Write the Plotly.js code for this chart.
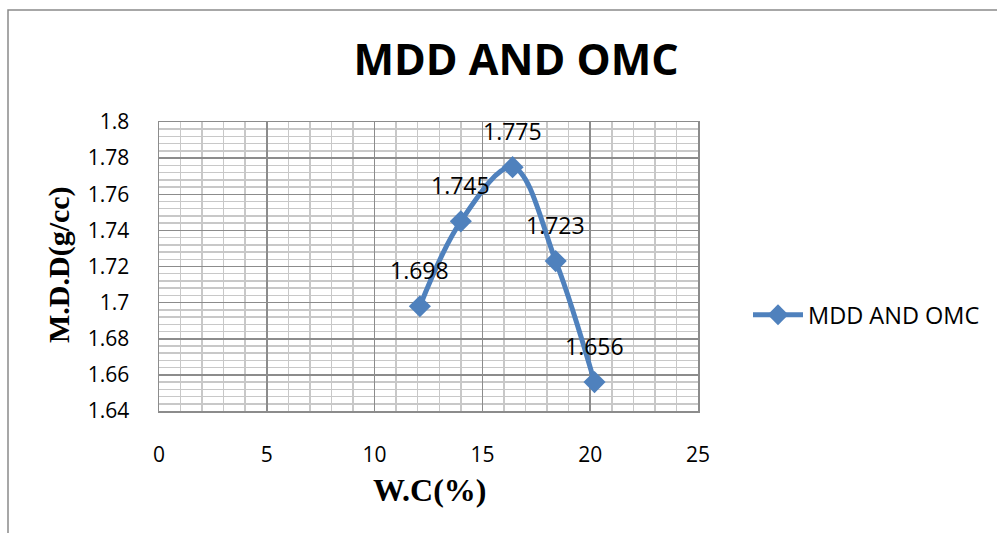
<!DOCTYPE html>
<html>
<head>
<meta charset="utf-8">
<script src="https://cdn.plot.ly/plotly-3.0.1.min.js"></script>
<style>
html,body{margin:0;padding:0;background:#fff;}
#chart{width:997px;height:533px;}
</style>
</head>
<body>
<div id="chart"></div>
<script>
var waterContent = [12.1, 14.0, 16.4, 18.4, 20.2];
var dryDensity = [1.698, 1.745, 1.775, 1.723, 1.656];
var pointLabels = ["1.698", "1.745", "1.775", "1.723", "1.656"];
var yTickVals = [1.64, 1.66, 1.68, 1.7, 1.72, 1.74, 1.76, 1.78, 1.8];
var yTickText = ["1.64", "1.66", "1.68", "1.7", "1.72", "1.74", "1.76", "1.78", "1.8"];
var xTickVals = [0, 5, 10, 15, 20, 25];
var seriesName = "MDD AND OMC";

var W = 997, H = 533, L = 159, R = 299, T = 122, B = 122;
var pw = W - L - R, ph = H - T - B;
function px(x){ return (x - L) / pw; }
function py(y){ return (H - B - y) / ph; }

var blue = "#4F81BD";
var trace = {
  x: waterContent, y: dryDensity, name: seriesName,
  type: "scatter", mode: "lines+markers",
  line: {color: blue, width: 5, shape: "spline", smoothing: 1},
  marker: {symbol: "diamond", size: 17, color: blue},
  cliponaxis: false
};

var ann = pointLabels.map(function(t, i){
  return {x: waterContent[i], y: dryDensity[i], xref: "x", yref: "y", text: t,
    showarrow: false, yshift: 36, xanchor: "center", yanchor: "middle",
    font: {family: "Open Sans", size: 23, color: "#000"}};
});
ann.push({x: px(429), y: py(490), xref: "paper", yref: "paper", text: "W.C(%)",
  showarrow: false, xanchor: "center", yanchor: "middle",
  font: {family: "Liberation Serif", size: 32, color: "#000", weight: "bold"}});
ann.push({x: px(59), y: py(265), xref: "paper", yref: "paper", text: "M.D.D(g/cc)",
  showarrow: false, xanchor: "center", yanchor: "middle", textangle: -90,
  font: {family: "Liberation Serif", size: 30, color: "#000", weight: "bold"}});

var layout = {
  width: W, height: H,
  margin: {l: L, r: R, t: T, b: B, pad: 0},
  paper_bgcolor: "#fff", plot_bgcolor: "#fff",
  title: {text: "<b>MDD AND OMC</b>", x: 516 / W, xanchor: "center", xref: "container",
    y: 1 - 60 / H, yanchor: "middle", yref: "container",
    font: {family: "Open Sans", size: 43, color: "#000"}},
  showlegend: true,
  legend: {x: px(748), y: py(315), xanchor: "left", yanchor: "middle", itemwidth: 50,
    font: {family: "Open Sans", size: 23.5, color: "#000"}, bgcolor: "rgba(0,0,0,0)"},
  xaxis: {range: [0, 25], tickmode: "array", tickvals: xTickVals,
    showgrid: true, gridcolor: "#8c8c8c", gridwidth: 1.5,
    minor: {dtick: 1, showgrid: true, gridcolor: "#c8c8c8", gridwidth: 1.5},
    showline: true, linecolor: "#8c8c8c", linewidth: 1.5, mirror: true,
    zeroline: false, ticks: "", ticklabelstandoff: 24,
    tickfont: {family: "Open Sans", size: 21, color: "#000"}},
  yaxis: {range: [1.64, 1.8], tickmode: "array", tickvals: yTickVals, ticktext: yTickText,
    showgrid: true, gridcolor: "#8c8c8c", gridwidth: 1.5,
    minor: {dtick: 0.004, showgrid: true, gridcolor: "#c8c8c8", gridwidth: 1.5},
    showline: true, linecolor: "#8c8c8c", linewidth: 1.5, mirror: true,
    zeroline: false, ticks: "", ticklabelstandoff: 24,
    tickfont: {family: "Open Sans", size: 21, color: "#000"}},
  annotations: ann,
  shapes: [{type: "rect", xref: "paper", yref: "paper",
    x0: px(8), x1: px(1010), y0: py(560), y1: py(10),
    line: {color: "#8a8a8a", width: 1.5}, fillcolor: "rgba(0,0,0,0)", layer: "below"}]
};

Plotly.newPlot("chart", [trace], layout, {staticPlot: true, displayModeBar: false});
</script>
</body>
</html>
